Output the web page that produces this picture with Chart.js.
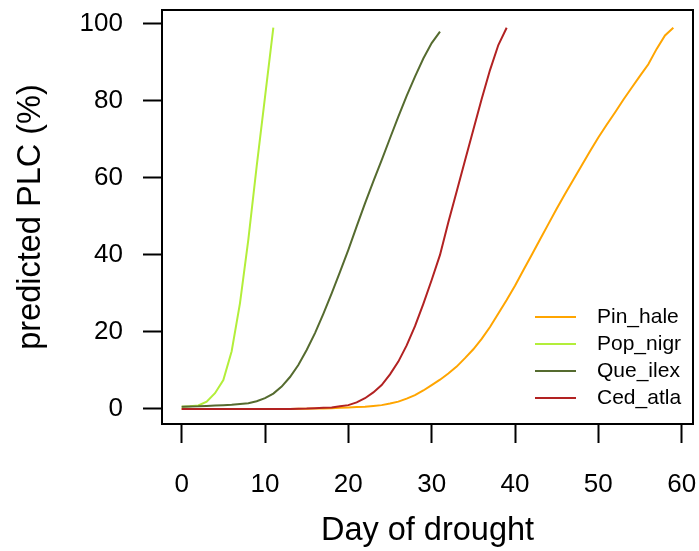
<!DOCTYPE html>
<html>
<head>
<meta charset="utf-8">
<script src="https://cdn.jsdelivr.net/npm/chart.js@4"></script>
<style>
  html, body { margin: 0; padding: 0; background: #fff; }
  #wrap { width: 699px; height: 551px; }
</style>
</head>
<body>
<div id="wrap"><canvas id="plc"></canvas></div>
<script>
// Day of drought (x) for every series; each series is as long as it runs.
const days = [0, 1, 2, 3, 4, 5, 6, 7, 8, 9, 10, 11, 12, 13, 14, 15, 16, 17, 18, 19,
  20, 21, 22, 23, 24, 25, 26, 27, 28, 29, 30, 31, 32, 33, 34, 35, 36, 37, 38, 39,
  40, 41, 42, 43, 44, 45, 46, 47, 48, 49, 50, 51, 52, 53, 54, 55, 56, 57, 58, 59];

const pinHale = [0, 0, 0, 0, 0, 0, 0, 0, 0, 0, 0, 0, 0, 0, 0.05, 0.08, 0.1, 0.15, 0.2, 0.3,
  0.4, 0.5, 0.6, 0.8, 1.0, 1.4, 1.9, 2.7, 3.6, 4.8, 6.2, 7.6, 9.2, 11, 13.2, 15.5, 18.2, 21.3, 24.8, 28.3,
  32, 36, 40, 44, 48, 52, 55.8, 59.5, 63.2, 66.9, 70.5, 73.8, 77, 80.3, 83.4, 86.5, 89.5, 93.5, 97, 99];
const popNigr = [0.6, 0.7, 0.9, 1.9, 4.1, 7.5, 15, 27.5, 44, 63, 81, 99];
const queIlex = [0.6, 0.65, 0.7, 0.8, 0.9, 1.0, 1.1, 1.3, 1.5, 2.0, 2.8, 4.0, 5.8, 8.3, 11.4, 15.3,
  19.7, 24.7, 30, 35.6, 41.3, 47.4, 53.4, 59.1, 64.6, 70.3, 75.9, 81.3, 86.3, 91, 95, 98];
const cedAtla = [0, 0, 0, 0, 0, 0, 0, 0, 0, 0, 0, 0, 0, 0, 0.05, 0.1, 0.2, 0.3, 0.4, 0.7,
  1.0, 1.7, 2.8, 4.3, 6.2, 9, 12.3, 16.5, 21.5, 27.3, 33.5, 40, 48.5, 56.5, 64.5, 72.5, 80.5, 88, 94.5, 99];

const seriesNames  = ["Pin_hale", "Pop_nigr", "Que_ilex", "Ced_atla"];
const seriesValues = [pinHale, popNigr, queIlex, cedAtla];
const seriesColors = ["#ffa500", "#b3ee3a", "#556b2f", "#b22222"];

const xTicks = [0, 10, 20, 30, 40, 50, 60];
const yTicks = [0, 20, 40, 60, 80, 100];

const FONT = "'Liberation Sans', Arial, sans-serif";

// R-style box round the plot region plus a frameless legend in the bottom-right corner.
const boxAndLegend = {
  id: "boxAndLegend",
  afterDraw(chart) {
    const { ctx, chartArea: a } = chart;
    ctx.save();
    ctx.strokeStyle = "#000";
    ctx.lineWidth = 2;
    ctx.strokeRect(a.left, a.top, a.right - a.left, a.bottom - a.top);

    ctx.font = `21px ${FONT}`;
    ctx.textBaseline = "middle";
    ctx.fillStyle = "#000";
    seriesNames.forEach((name, i) => {
      const y = a.bottom - 107 + i * 27;
      ctx.strokeStyle = seriesColors[i];
      ctx.beginPath();
      ctx.moveTo(a.right - 158, y);
      ctx.lineTo(a.right - 117, y);
      ctx.stroke();
      ctx.fillText(name, a.right - 96, y);
    });
    ctx.restore();
  }
};

const onlyTicks = (list) => (scale) => { scale.ticks = list.map((v) => ({ value: v })); };
// fixed axis size, and no extra room reserved for overhanging end labels
const fixSize = (prop, size) => (s) => {
  s[prop] = size;
  s.paddingTop = s.paddingBottom = s.paddingLeft = s.paddingRight = 0;
};

new Chart(document.getElementById("plc"), {
  type: "line",
  data: {
    datasets: seriesNames.map((name, i) => ({
      label: name,
      data: seriesValues[i].map((v, j) => ({ x: days[j], y: v })),
      borderColor: seriesColors[i],
      borderWidth: 2,
      pointRadius: 0,
      tension: 0,
      order: seriesNames.length - i  // later series drawn on top, as in R
    }))
  },
  options: {
    responsive: true,
    maintainAspectRatio: false,
    animation: false,
    layout: { padding: { top: 10, right: 6, left: 0, bottom: 0 } },
    plugins: { legend: { display: false }, tooltip: { enabled: false } },
    scales: {
      x: {
        type: "linear",
        min: -2.36,
        max: 61.36,
        afterBuildTicks: onlyTicks(xTicks),
        afterFit: fixSize("height", 127),
        grid: { drawOnChartArea: false, drawTicks: true, tickLength: 19, tickWidth: 2, tickColor: "#000" },
        border: { display: false },
        ticks: { color: "#000", padding: 26, maxRotation: 0, font: { family: FONT, size: 26 } },
        title: { display: true, text: "Day of drought", color: "#000", padding: 0, font: { family: FONT, size: 32.5 } }
      },
      y: {
        min: -3.9,
        max: 103.6,
        afterBuildTicks: onlyTicks(yTicks),
        afterFit: fixSize("width", 162),
        grid: { drawOnChartArea: false, drawTicks: true, tickLength: 19, tickWidth: 2, tickColor: "#000" },
        border: { display: false },
        ticks: { color: "#000", padding: 20, font: { family: FONT, size: 26 } },
        title: { display: true, text: "predicted PLC (%)", color: "#000", padding: { top: 12, bottom: 0 }, font: { family: FONT, size: 32.5 } }
      }
    }
  },
  plugins: [boxAndLegend]
});
</script>
</body>
</html>
